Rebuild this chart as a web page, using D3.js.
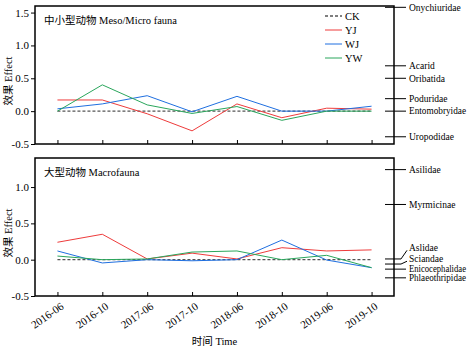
<html>
<head>
  <meta charset="utf8">
  <title>Effect over time</title>
  <style>
  * { margin: 0; padding: 0; }
  body { background: #fff; }
  text { font-family: "Liberation Serif", "Times New Roman", "Noto Sans CJK SC", serif; fill: #000; }
  </style>
</head>
<body>
  <script src="https://cdn.jsdelivr.net/npm/d3@7"></script>
  <script>
  // Sampling dates
  var dates = ["2016-06", "2016-10", "2017-06", "2017-10", "2018-06", "2018-10", "2019-06", "2019-10"];
  var seriesNames = ["CK", "YJ", "WJ", "YW"];
  var seriesColors = ["#555555", "#ee3b3b", "#1f6fe0", "#2aa65c"];

  // Meso/Micro fauna effects
  var mesoCK = [0, 0, 0, 0, 0, 0, 0, 0];
  var mesoYJ = [0.17, 0.17, -0.04, -0.30, 0.11, -0.10, 0.045, 0.03];
  var mesoWJ = [0.035, 0.11, 0.235, -0.01, 0.225, 0.0, 0.0, 0.075];
  var mesoYW = [0.0, 0.40, 0.095, -0.035, 0.07, -0.14, 0.0, 0.0];

  // Macrofauna effects
  var macroCK = [0, 0, 0, 0, 0, 0, 0, 0];
  var macroYJ = [0.24, 0.35, 0.01, 0.09, 0.01, 0.165, 0.12, 0.135];
  var macroWJ = [0.12, -0.045, 0.0, -0.015, 0.0, 0.27, -0.005, -0.11];
  var macroYW = [0.05, 0.0, 0.01, 0.105, 0.12, 0.0, 0.06, -0.11];

  // taxa marked on the right side
  var mesoTaxa = ["Onychiuridae", "Acarid", "Oribatida", "Poduridae", "Entomobryidae", "Uropodidae"];
  var mesoTaxaValues = [1.58, 0.69, 0.50, 0.19, 0.0, -0.39];
  var mesoTaxaLabelValues = [1.58, 0.69, 0.50, 0.19, 0.0, -0.39];
  var macroTaxa = ["Asilidae", "Myrmicinae", "Aslidae", "Sciandae", "Enicocephalidae", "Phlaeothripidae"];
  var macroTaxaValues = [1.24, 0.76, 0.01, -0.06, -0.13, -0.25];
  var macroTaxaLabelValues = [1.24, 0.76, 0.17, 0.02, -0.13, -0.25];

  var yTicks = [-0.5, 0.0, 0.5, 1.0, 1.5];

  var w = 471, h = 349;
  var left = 35, right = 394;

  var svg = d3.select("body").append("svg")
    .attr("width", w)
    .attr("height", h);

  var xScale = d3.scalePoint()
    .domain(dates)
    .range([left, right])
    .padding(0.5);

  function drawPanel(cfg) {
    var yScale = d3.scaleLinear()
      .domain(cfg.domain)
      .range([cfg.bottom, cfg.top]);
    var g = svg.append("g");

    // lines
    var line = d3.line()
      .x(function(d, i) { return xScale(dates[i]); })
      .y(function(d) { return yScale(d); });
    cfg.series.forEach(function(s, k) {
      g.append("path")
        .datum(s)
        .attr("fill", "none")
        .attr("stroke", seriesColors[k])
        .attr("stroke-width", k == 0 ? 1.3 : 1)
        .attr("stroke-dasharray", k == 0 ? "3,2" : null)
        .attr("d", line);
    });

    // frame
    g.append("rect")
      .attr("x", left)
      .attr("y", cfg.top)
      .attr("width", right - left)
      .attr("height", cfg.bottom - cfg.top)
      .attr("fill", "none")
      .attr("stroke", "#000")
      .attr("stroke-width", 1.5);

    // y axis
    var yAxis = d3.axisLeft(yScale)
      .tickValues(yTicks.filter(function(t) { return t <= cfg.domain[1]; }))
      .tickSize(4)
      .tickPadding(2);
    var ya = g.append("g")
      .attr("transform", "translate(" + left + ",0)")
      .call(yAxis);
    ya.select(".domain").remove();
    ya.selectAll("line").attr("stroke", "#000");
    ya.selectAll("text").style("font-size", "11px").attr("fill", "#000")
      .text(function(d) { return d < 0 ? "-" + Math.abs(d).toFixed(1) : d.toFixed(1); });

    // x axis (ticks pointing up inside)
    var xAxis = d3.axisBottom(xScale).tickSize(-4).tickFormat("");
    var xa = g.append("g")
      .attr("transform", "translate(0," + cfg.bottom + ")")
      .call(xAxis);
    xa.select(".domain").remove();
    xa.selectAll("line").attr("stroke", "#000");

    if (cfg.labels) {
      g.selectAll(".xlab")
        .data(dates)
        .enter()
        .append("text")
        .attr("class", "xlab")
        .attr("text-anchor", "end")
        .style("font-size", "11px")
        .attr("transform", function(d) {
          return "translate(" + (xScale(d) + 7) + "," + (cfg.bottom + 12) + ") rotate(-35)";
        })
        .text(function(d) { return d; });
    }

    // panel title
    g.append("text")
      .attr("x", 44)
      .attr("y", cfg.top + 18)
      .style("font-size", "10.5px")
      .text(cfg.title);

    // y label
    g.append("text")
      .attr("transform", "translate(12," + ((cfg.top + cfg.bottom) / 2 + 6) + ") rotate(-90)")
      .attr("text-anchor", "middle")
      .style("font-size", "10.5px")
      .text("效果 Effect");

    // taxa markers
    cfg.taxa.forEach(function(name, i) {
      var yt = yScale(cfg.taxaValues[i]);
      var yl = yScale(cfg.taxaLabelValues[i]);
      if (Math.abs(yt - yl) > 1) {
        g.append("path")
          .attr("d", "M385," + yt + "H401L407," + (yl + 3))
          .attr("fill", "none")
          .attr("stroke", "#000");
      } else {
        g.append("line")
          .attr("x1", 385).attr("x2", 406)
          .attr("y1", yt).attr("y2", yt)
          .attr("stroke", "#000");
      }
      var t = g.append("text")
        .attr("x", 409)
        .attr("y", yl + 3.3)
        .style("font-size", "9.5px")
        .text(name);
      // squeeze long names so they stay inside the picture
      if (t.node().getComputedTextLength() > 57) {
        t.attr("textLength", 57).attr("lengthAdjust", "spacingAndGlyphs");
      }
    });
    return g;
  }

  drawPanel({
    top: 6, bottom: 144, domain: [-0.5, 1.6],
    series: [mesoCK, mesoYJ, mesoWJ, mesoYW],
    title: "中小型动物 Meso/Micro fauna",
    taxa: mesoTaxa, taxaValues: mesoTaxaValues, taxaLabelValues: mesoTaxaLabelValues,
    labels: false
  });
  drawPanel({
    top: 158, bottom: 296, domain: [-0.5, 1.4],
    series: [macroCK, macroYJ, macroWJ, macroYW],
    title: "大型动物 Macrofauna",
    taxa: macroTaxa, taxaValues: macroTaxaValues, taxaLabelValues: macroTaxaLabelValues,
    labels: true
  });

  // legend
  var legend = svg.append("g");
  seriesNames.forEach(function(name, i) {
    var ly = 16 + i * 14;
    legend.append("line")
      .attr("x1", 325).attr("x2", 342)
      .attr("y1", ly).attr("y2", ly)
      .attr("stroke", seriesColors[i])
      .attr("stroke-width", i == 0 ? 1.3 : 1)
      .attr("stroke-dasharray", i == 0 ? "3,2" : null);
    legend.append("text")
      .attr("x", 345)
      .attr("y", ly + 4)
      .style("font-size", "10.5px")
      .text(name);
  });

  // x axis title
  svg.append("text")
    .attr("x", (left + right) / 2)
    .attr("y", 345)
    .attr("text-anchor", "middle")
    .style("font-size", "10.5px")
    .text("时间 Time");
  </script>
</body>
</html>
